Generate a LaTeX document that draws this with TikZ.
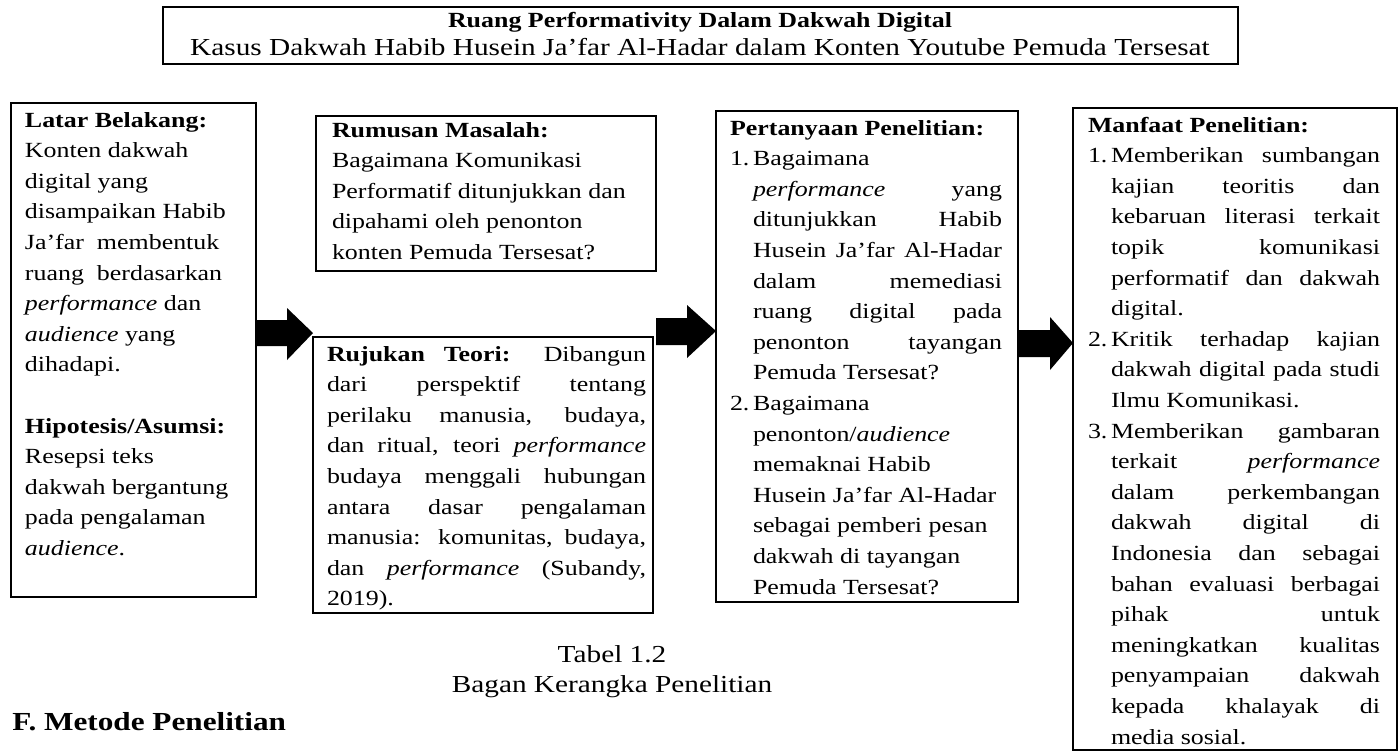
\documentclass[tikz,border=0pt]{standalone}
\usepackage{fontspec}
\setmainfont{Liberation Serif}[FakeStretch=1.2]
\newcommand{\bodyfont}{\fontsize{10.8pt}{15.3pt}\selectfont}
\newcommand{\bigfont}{\fontsize{12.2pt}{15pt}\selectfont}
\newcommand{\jl}[2]{\makebox[#1][s]{#2}}
\newcommand{\num}[1]{\makebox[11.5pt][l]{#1}}
\newcommand{\ind}{\hspace*{11.5pt}}
\begin{document}
\begin{tikzpicture}[x=0.5pt,y=-0.5pt,
  boxst/.style={draw=black,line width=1pt,inner sep=0pt,outer sep=0pt,anchor=north west},
  txt/.style={inner sep=0pt,outer sep=0pt,anchor=north west,align=left,font=\bodyfont},
  blockarrow/.style={fill=black}]
\fill[white] (0,0) rectangle (1400,752);
\useasboundingbox (0,0) rectangle (1400,752);

% boxes
\node[boxst,minimum width=537.5pt,minimum height=28.5pt] (titlebox) at (163,7) {};
\node[boxst,minimum width=122.5pt,minimum height=247pt] (latar) at (11,103) {};
\node[boxst,minimum width=170pt,minimum height=77.5pt] (rumusan) at (316,116) {};
\node[boxst,minimum width=170pt,minimum height=138pt] (rujukan) at (313,337) {};
\node[boxst,minimum width=151pt,minimum height=245.5pt] (pertanyaan) at (716,111) {};
\node[boxst,minimum width=162pt,minimum height=321pt] (manfaat) at (1073,108) {};

% title
\node[font=\bodyfont\bfseries,anchor=base,inner sep=0pt] (ttl) at (700,27) {Ruang Performativity Dalam Dakwah Digital};
\node[font=\bigfont,anchor=base,inner sep=0pt] (sub) at (700,55) {Kasus Dakwah Habib Husein Ja’far Al-Hadar dalam Konten Youtube Pemuda Tersesat};

% latar belakang
\node[txt] (latartxt) at (25,105.6) {\strut\textbf{Latar Belakang:}\\
Konten dakwah\\
digital yang\\
disampaikan Habib\\
Ja’far\ \ membentuk\\
ruang\ \ berdasarkan\\
\textit{performance} dan\\
\textit{audience} yang\\
dihadapi.\\
\mbox{}\\
\textbf{Hipotesis/Asumsi:}\\
Resepsi teks\\
dakwah bergantung\\
pada pengalaman\\
\textit{audience}.};

% rumusan
\node[txt] (rumusantxt) at (332,115.6) {\strut\textbf{Rumusan Masalah:}\\
Bagaimana Komunikasi\\
Performatif ditunjukkan dan\\
dipahami oleh penonton\\
konten Pemuda Tersesat?};

% rujukan
\node[txt] (rujukantxt) at (327,339.6) {\strut\jl{159.5pt}{\textbf{Rujukan\ Teori:} Dibangun}\\
\jl{159.5pt}{dari perspektif tentang}\\
\jl{159.5pt}{perilaku manusia, budaya,}\\
\jl{159.5pt}{dan ritual, teori \textit{performance}}\\
\jl{159.5pt}{budaya menggali hubungan}\\
\jl{159.5pt}{antara dasar pengalaman}\\
\jl{159.5pt}{manusia: komunitas, budaya,}\\
\jl{159.5pt}{dan \textit{performance} (Subandy,}\\
2019).};

% pertanyaan
\node[txt] (pertanyaantxt) at (730,113.6) {\strut\textbf{Pertanyaan Penelitian:}\\
\num{1.}Bagaimana\\
\ind\jl{124.5pt}{\textit{performance} yang}\\
\ind\jl{124.5pt}{ditunjukkan Habib}\\
\ind\jl{124.5pt}{Husein Ja’far Al-Hadar}\\
\ind\jl{124.5pt}{dalam memediasi}\\
\ind\jl{124.5pt}{ruang digital pada}\\
\ind\jl{124.5pt}{penonton tayangan}\\
\ind Pemuda Tersesat?\\
\num{2.}Bagaimana\\
\ind penonton/\textit{audience}\\
\ind memaknai Habib\\
\ind Husein Ja’far Al-Hadar\\
\ind sebagai pemberi pesan\\
\ind dakwah di tayangan\\
\ind Pemuda Tersesat?};

% manfaat
\node[txt] (manfaattxt) at (1088,110.6) {\strut\textbf{Manfaat Penelitian:}\\
\num{1.}\jl{134.5pt}{Memberikan sumbangan}\\
\ind\jl{134.5pt}{kajian teoritis dan}\\
\ind\jl{134.5pt}{kebaruan literasi terkait}\\
\ind\jl{134.5pt}{topik komunikasi}\\
\ind\jl{134.5pt}{performatif dan dakwah}\\
\ind digital.\\
\num{2.}\jl{134.5pt}{Kritik terhadap kajian}\\
\ind\jl{134.5pt}{dakwah digital pada studi}\\
\ind Ilmu Komunikasi.\\
\num{3.}\jl{134.5pt}{Memberikan gambaran}\\
\ind\jl{134.5pt}{terkait \textit{performance}}\\
\ind\jl{134.5pt}{dalam perkembangan}\\
\ind\jl{134.5pt}{dakwah digital di}\\
\ind\jl{134.5pt}{Indonesia dan sebagai}\\
\ind\jl{134.5pt}{bahan evaluasi berbagai}\\
\ind\jl{134.5pt}{pihak untuk}\\
\ind\jl{134.5pt}{meningkatkan kualitas}\\
\ind\jl{134.5pt}{penyampaian dakwah}\\
\ind\jl{134.5pt}{kepada khalayak di}\\
\ind media sosial.};

% block arrows
\fill[blockarrow] (latar.east |- 0,320) -- (287,320) -- (287,308) -- (rujukan.west |- 0,333) -- (287,360) -- (287,346) -- (latar.east |- 0,346) -- cycle;
\fill[blockarrow] (rumusan.east |- 0,318) -- (687,318) -- (687,305) -- (pertanyaan.west |- 0,331) -- (687,358) -- (687,345) -- (rumusan.east |- 0,345) -- cycle;
\fill[blockarrow] (pertanyaan.east |- 0,330) -- (1050,330) -- (1050,317) -- (manfaat.west |- 0,343) -- (1050,370) -- (1050,357) -- (pertanyaan.east |- 0,357) -- cycle;

% caption
\node[font=\bigfont,anchor=base,inner sep=0pt] (cap1) at (612,662) {Tabel 1.2};
\node[font=\bigfont,anchor=base,inner sep=0pt] (cap2) at (612,692) {Bagan Kerangka Penelitian};
\node[font=\fontsize{13pt}{15pt}\selectfont\bfseries,anchor=base west,inner sep=0pt] (fhead) at (12,730) {F. Metode Penelitian};
\end{tikzpicture}
\end{document}
